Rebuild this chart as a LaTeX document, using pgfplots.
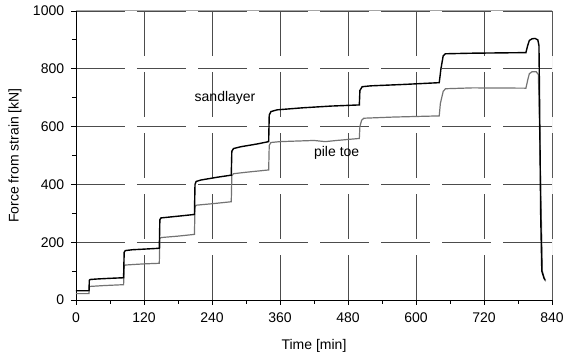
\documentclass[border=0pt]{standalone}
\usepackage{fontspec}
\setmainfont{Liberation Sans}
\usepackage{pgfplots}
\pgfplotsset{compat=1.18}
\begin{document}
\fontsize{14}{16}\selectfont
\begin{tikzpicture}
\begin{axis}[
 at={(0,0)}, anchor=south west,
 scale only axis, width=476pt, height=289pt,
 xmin=0, xmax=840, ymin=0, ymax=1000,
 axis x line*=bottom, axis y line*=left,
 xtick={0,120,...,840}, ytick={0,200,...,1000},
 minor x tick num=1, minor y tick num=1,
 tick align=outside, major tick length=5pt, minor tick length=4pt,
 every tick/.style={black, line width=0.8pt},
 axis line style={black, line width=0.8pt},
 grid=major,
 x grid style={draw=black!70, line width=0.8pt, dash pattern=on 45pt off 16pt},
 y grid style={draw=black!70, line width=0.8pt, dash pattern=on 49pt off 12pt},
 /pgf/number format/assume math mode=true,
 /pgf/number format/set thousands separator={},
 ticklabel style={font=\fontsize{14}{16}\selectfont},
 xticklabel style={yshift=-3pt},
 yticklabel style={xshift=-2pt},
 xlabel={Time [min]}, ylabel={Force from strain [kN]},
 every axis x label/.style={at={(rel axis cs:0.5,0)}, anchor=base, yshift=-50pt, font=\fontsize{14}{16}\selectfont},
 every axis y label/.style={at={(rel axis cs:0,0.5)}, xshift=-61pt, rotate=90, anchor=center, font=\fontsize{14}{16}\selectfont},
]
% pile toe
\addplot[black!55, line width=1.2pt] coordinates {
(0,22) (23,22) (23.5,45) (25,47) (50,50) (84,53) (85,118) (87,121) (120,125) (147,127)
(148,212) (150,216) (180,221) (209,227) (210,322) (212,328) (240,333) (274,340)
(275,430) (278,437) (300,442) (340,450) (341,535) (344,545) (360,548) (420,552) (440,548) (460,552) (500,559)
(501,600) (504,622) (508,629) (560,633) (641,637) (643,680) (648,722) (652,731) (700,734) (794,733)
(797,760) (800,783) (805,790) (812,790) (816,780) (818,600) (821,300) (823,100) (827,70) (829,65)
};
% sandlayer
\addplot[black, line width=1.4pt] coordinates {
(0,32) (23,32) (23.5,68) (25,71) (40,73) (60,75) (84,77) (85,165) (87,171) (100,174) (120,176) (147,179)
(148,278) (150,284) (170,288) (190,292) (209,296) (210,400) (212,410) (220,415) (250,425) (274,432)
(275,515) (278,524) (290,530) (320,540) (340,548) (341,640) (344,652) (355,658) (400,665) (450,671) (500,675)
(501,725) (505,738) (520,741) (580,746) (641,752) (644,800) (648,845) (652,852) (700,854) (794,856)
(797,880) (800,898) (805,904) (810,905) (815,900) (817,880) (818,700) (820,300) (822,100) (826,75) (828,70)
};
\draw[black!35, line width=1pt] (rel axis cs:0,1) -- (rel axis cs:1,1) -- (rel axis cs:1,0);
\node[font=\fontsize{14}{16}\selectfont] at (axis cs:263,699) {sandlayer};
\node[font=\fontsize{14}{16}\selectfont] at (axis cs:460,509) {pile toe};
\end{axis}
\pgfresetboundingbox
\path[use as bounding box] (-76pt,-58pt) rectangle (489pt,300pt);
\end{tikzpicture}
\end{document}
